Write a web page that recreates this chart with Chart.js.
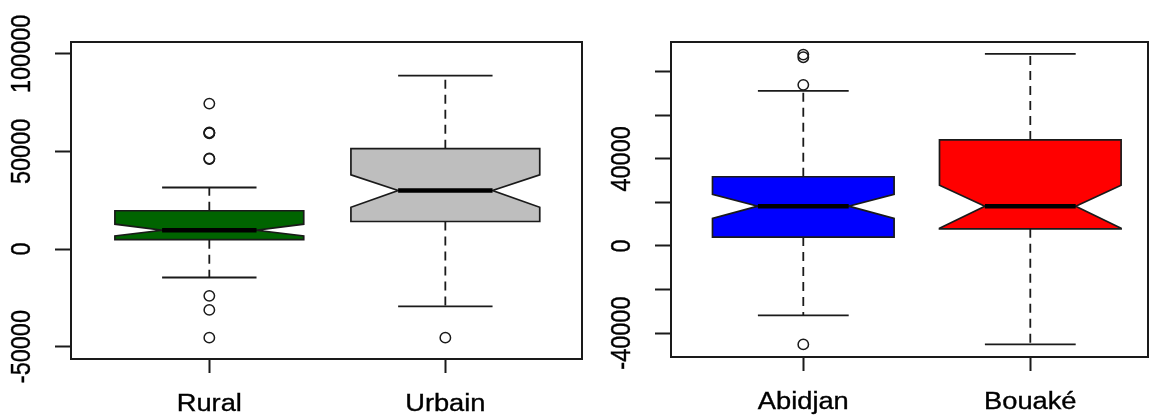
<!DOCTYPE html>
<html>
<head>
<meta charset="utf-8">
<script src="https://cdn.jsdelivr.net/npm/chart.js@4.4.1/dist/chart.umd.min.js"></script>
<style>
  html, body { margin: 0; padding: 0; background: #ffffff; }
  #wrap { position: relative; width: 1155px; height: 416px; overflow: hidden; background: #ffffff; }
  #wrap canvas { position: absolute; left: 0; top: 0; }
</style>
</head>
<body>
<div id="wrap">
  <canvas id="milieu" width="1155" height="416"></canvas>
  <canvas id="ville" width="1155" height="416"></canvas>
</div>
<script>
// ---- Panel 1: residence area ----
const milieuCategories = ['Rural', 'Urbain'];
const milieuWhiskerLow = [-14600, -29400];
const milieuQ1 = [4800, 14100];
const milieuNotchLow = [6700, 21400];
const milieuMedian = [9600, 30000];
const milieuNotchHigh = [12700, 38000];
const milieuQ3 = [19600, 51400];
const milieuWhiskerHigh = [31500, 88800];
const milieuOutliers = [
  [74500, 59700, 59500, 59300, 46400, 46100, -24000, -31200, -45400],
  [-45400]
];
const milieuYTicks = [-50000, 0, 50000, 100000];
const milieuYLabels = [-50000, 0, 50000, 100000];

// ---- Panel 2: city ----
const villeCategories = ['Abidjan', 'Bouaké'];
const villeWhiskerLow = [-31900, -45200];
const villeQ1 = [4100, 7900];
const villeNotchLow = [12700, 8100];
const villeMedian = [18300, 18300];
const villeNotchHigh = [23700, 27900];
const villeQ3 = [31800, 48700];
const villeWhiskerHigh = [71200, 88200];
const villeOutliers = [
  [87900, 86700, 74000, -45200],
  []
];
const villeYTicks = [-40000, -20000, 0, 20000, 40000, 60000, 80000];
const villeYLabels = [-40000, 0, 40000];

const FONT_FAMILY = '"Liberation Sans", Arial, sans-serif';
const INK = '#1a1a1a';

// Draws notched boxes, whiskers, the frame and the axis labels with the chart's scales.
function notchedBoxPlugin(stats) {
  return {
    id: 'notchedBoxes',
    beforeDatasetsDraw(chart) {
      const { ctx, scales: { x, y } } = chart;
      const py = v => y.getPixelForValue(v);
      stats.categories.forEach((cat, i) => {
        const cx = x.getPixelForValue(i + 1);
        const half = x.getPixelForValue(i + 1 + 0.4) - cx;
        const inner = half / 2;
        const cap = x.getPixelForValue(i + 1 + 0.2) - cx;

        ctx.save();
        // dashed whiskers
        ctx.strokeStyle = INK;
        ctx.lineWidth = 1.8;
        ctx.setLineDash([9, 6]);
        ctx.beginPath();
        ctx.moveTo(cx, py(stats.q3[i]));
        ctx.lineTo(cx, py(stats.whiskerHigh[i]));
        ctx.moveTo(cx, py(stats.q1[i]));
        ctx.lineTo(cx, py(stats.whiskerLow[i]));
        ctx.stroke();
        ctx.setLineDash([]);

        // whisker caps
        ctx.beginPath();
        ctx.moveTo(cx - cap, py(stats.whiskerHigh[i]));
        ctx.lineTo(cx + cap, py(stats.whiskerHigh[i]));
        ctx.moveTo(cx - cap, py(stats.whiskerLow[i]));
        ctx.lineTo(cx + cap, py(stats.whiskerLow[i]));
        ctx.stroke();

        // notched box
        ctx.beginPath();
        ctx.moveTo(cx - half, py(stats.q1[i]));
        ctx.lineTo(cx - half, py(stats.notchLow[i]));
        ctx.lineTo(cx - inner, py(stats.median[i]));
        ctx.lineTo(cx - half, py(stats.notchHigh[i]));
        ctx.lineTo(cx - half, py(stats.q3[i]));
        ctx.lineTo(cx + half, py(stats.q3[i]));
        ctx.lineTo(cx + half, py(stats.notchHigh[i]));
        ctx.lineTo(cx + inner, py(stats.median[i]));
        ctx.lineTo(cx + half, py(stats.notchLow[i]));
        ctx.lineTo(cx + half, py(stats.q1[i]));
        ctx.closePath();
        ctx.fillStyle = stats.colors[i];
        ctx.fill();
        ctx.lineWidth = 1.7;
        ctx.lineJoin = 'miter';
        ctx.stroke();

        // median
        ctx.beginPath();
        ctx.lineWidth = 4.5;
        ctx.strokeStyle = '#000000';
        ctx.moveTo(cx - inner, py(stats.median[i]));
        ctx.lineTo(cx + inner, py(stats.median[i]));
        ctx.stroke();
        ctx.restore();
      });
    },
    afterDraw(chart) {
      const { ctx, chartArea: a, scales: { x, y } } = chart;
      ctx.save();
      // plot frame
      ctx.strokeStyle = INK;
      ctx.lineWidth = 2;
      ctx.strokeRect(a.left, a.top, a.right - a.left, a.bottom - a.top);

      // vertical tick labels, reading upwards
      ctx.fillStyle = '#000000';
      ctx.strokeStyle = '#000000';
      ctx.lineWidth = 0.35;
      ctx.font = '23.5px ' + FONT_FAMILY;
      ctx.textAlign = 'center';
      ctx.textBaseline = 'middle';
      stats.yLabels.forEach(v => {
        ctx.save();
        ctx.translate(a.left - 48.5, y.getPixelForValue(v));
        ctx.rotate(-Math.PI / 2);
        ctx.scale(1, 1.18);
        ctx.fillText(String(v), 0, 0);
        ctx.strokeText(String(v), 0, 0);
        ctx.restore();
      });

      // category names under the axis
      ctx.textBaseline = 'alphabetic';
      stats.categories.forEach((cat, i) => {
        ctx.save();
        ctx.translate(x.getPixelForValue(i + 1), a.bottom + 52);
        ctx.scale(1.16, 1);
        ctx.fillText(cat, 0, 0);
        ctx.strokeText(cat, 0, 0);
        ctx.restore();
      });
      ctx.restore();
    }
  };
}

function buildPanel(canvasId, stats, geom) {
  const outlierPoints = [];
  stats.outliers.forEach((list, i) => list.forEach(v => outlierPoints.push({ x: i + 1, y: v })));

  return new Chart(document.getElementById(canvasId), {
    type: 'scatter',
    data: {
      datasets: [{
        data: outlierPoints,
        pointStyle: 'circle',
        pointRadius: 5.2,
        pointBorderWidth: 1.5,
        pointBorderColor: INK,
        pointBackgroundColor: 'rgba(0,0,0,0)'
      }]
    },
    options: {
      responsive: false,
      animation: false,
      devicePixelRatio: 1,
      events: [],
      layout: { padding: geom.padding },
      plugins: { legend: { display: false }, tooltip: { enabled: false } },
      scales: {
        x: {
          type: 'linear',
          position: 'bottom',
          min: geom.xMin,
          max: geom.xMax,
          afterBuildTicks: s => { s.ticks = stats.categories.map((c, i) => ({ value: i + 1 })); },
          afterFit: s => { s.height = geom.xAxisHeight; },
          ticks: { display: false },
          border: { display: false },
          grid: { display: true, drawOnChartArea: false, drawTicks: true, tickLength: 14, tickWidth: 2, tickColor: INK }
        },
        y: {
          type: 'linear',
          position: 'left',
          min: geom.yMin,
          max: geom.yMax,
          afterBuildTicks: s => { s.ticks = stats.yTicks.map(v => ({ value: v })); },
          afterFit: s => { s.width = geom.yAxisWidth; },
          ticks: { display: false },
          border: { display: false },
          grid: { display: true, drawOnChartArea: false, drawTicks: true, tickLength: 16, tickWidth: 2, tickColor: INK }
        }
      }
    },
    plugins: [notchedBoxPlugin(stats)]
  });
}

buildPanel('milieu', {
  categories: milieuCategories,
  colors: ['#006400', '#BEBEBE'],
  whiskerLow: milieuWhiskerLow, q1: milieuQ1, notchLow: milieuNotchLow, median: milieuMedian,
  notchHigh: milieuNotchHigh, q3: milieuQ3, whiskerHigh: milieuWhiskerHigh,
  outliers: milieuOutliers, yTicks: milieuYTicks, yLabels: milieuYLabels
}, {
  padding: { left: 0, right: 573, top: 42, bottom: 0 },
  yAxisWidth: 71, xAxisHeight: 57,
  xMin: 0.414, xMax: 2.579, yMin: -56350, yMax: 106050
});

buildPanel('ville', {
  categories: villeCategories,
  colors: ['#0000FF', '#FF0000'],
  whiskerLow: villeWhiskerLow, q1: villeQ1, notchLow: villeNotchLow, median: villeMedian,
  notchHigh: villeNotchHigh, q3: villeQ3, whiskerHigh: villeWhiskerHigh,
  outliers: villeOutliers, yTicks: villeYTicks, yLabels: villeYLabels
}, {
  padding: { left: 600, right: 7, top: 42, bottom: 0 },
  yAxisWidth: 71, xAxisHeight: 59,
  xMin: 0.4172, xMax: 2.5185, yMin: -50980, yMax: 93690
});
</script>
</body>
</html>
